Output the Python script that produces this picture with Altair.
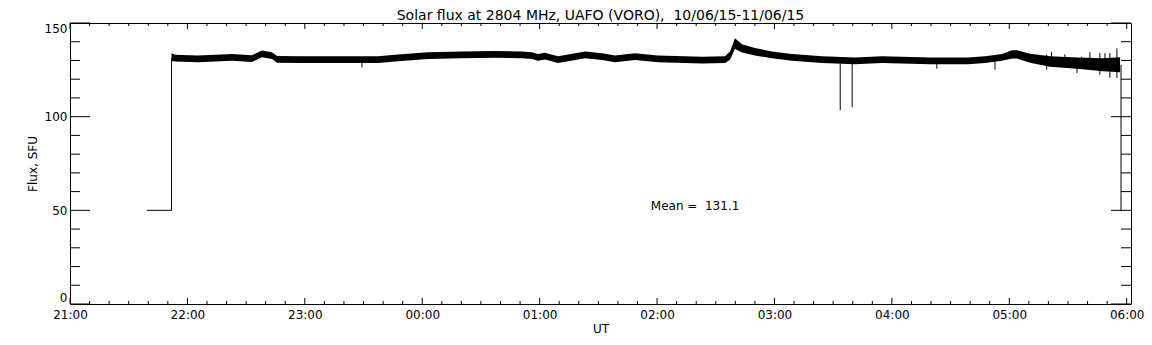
import altair as alt
import pandas as pd

# ---- data ----
# time in minutes after 21:00 UT
band_minutes = [51.9, 53.7, 65.4, 74.1, 82.8, 93.0, 98.1, 103.2, 105.8, 117.5,
                138.0, 157.4, 166.1, 182.9, 200.3, 217.2, 231.0, 236.1, 239.1, 242.7,
                249.4, 263.2, 271.9, 278.5, 288.7, 300.5, 323.0, 334.7, 337.3, 339.8,
                343.4, 350.0, 358.7, 369.0, 384.3, 401.1, 414.9, 439.5, 458.9, 467.6,
                476.3, 481.4, 483.9, 490.6, 500.8, 514.6, 527.9, 536.6]
flux_low = [129.7, 129.4, 129.1, 129.4, 129.8, 129.2, 131.7, 130.8, 128.8, 128.6,
            128.6, 128.7, 129.4, 130.8, 131.2, 131.5, 131.2, 130.8, 129.8, 130.5,
            128.6, 131.2, 130.2, 129.1, 130.2, 129.1, 128.4, 128.6, 130.4, 136.3,
            134.3, 132.7, 131.2, 129.8, 128.6, 128.0, 128.6, 128.0, 128.0, 128.6,
            129.8, 131.1, 131.1, 128.8, 126.7, 125.6, 124.2, 123.7]
flux_high = [133.8, 133.0, 132.7, 133.0, 133.4, 132.8, 135.3, 134.4, 132.4, 132.2,
             132.2, 132.3, 133.0, 134.4, 134.8, 135.1, 134.8, 134.4, 133.4, 134.1,
             132.2, 134.8, 133.8, 132.7, 133.8, 132.7, 132.0, 132.2, 134.8, 141.9,
             138.7, 136.7, 134.8, 133.4, 132.2, 131.6, 132.2, 131.6, 131.6, 132.2,
             133.4, 135.5, 135.5, 133.6, 132.3, 131.6, 131.2, 131.7]

# calibration steps at start and end (minutes, SFU)
step_minutes = [39.3, 51.9, 51.9, 537.1, 537.1]
step_flux = [50, 50, 131.5, 127.7, 50]
step_segment = ["start", "start", "start", "end", "end"]

# spikes (minutes, low, high)
spike_minutes = [149.2, 393.6, 399.7, 443.0, 472.7, 499.1, 501.6, 508.4, 514.6,
                 517.0, 521.2, 526.3, 528.9, 531.4, 535.0]
spike_low = [126.3, 103.5, 105.1, 125.6, 125.1, 125.1, 128.0, 128.0, 123.3,
             127.0, 127.0, 122.4, 126.0, 120.7, 120.7]
spike_high = [130.0, 129.5, 129.5, 129.5, 129.5, 133.0, 134.7, 133.3, 129.0,
              132.0, 134.4, 133.9, 133.9, 133.9, 136.5]

x_major = [0, 60, 120, 180, 240, 300, 360, 420, 480, 540]
x_tick_labels = ["21:00", "22:00", "23:00", "00:00", "01:00", "02:00",
                 "03:00", "04:00", "05:00", "06:00"]
x_minor = [m for m in range(10, 541, 10) if m % 60 != 0]
y_major = [0, 50, 100, 150]
y_minor = [v for v in range(10, 150, 10) if v % 50 != 0]

mean_text = ["Mean =\u00a0 131.1"]
mean_pos_min = [296.8]
mean_pos_val = [50]

title_text = ["Solar flux at 2804 MHz, UAFO (VORO),\u00a0 10/06/15-11/06/15"]

# ---- chart ----
W, H = 1061, 281
FONT = "DejaVu Sans"
xs = alt.Scale(domain=[0, 542.2], nice=False, zero=False)
ys = alt.Scale(domain=[0, 150], nice=False, zero=False)

label_expr = "[" + ",".join(f"'{s}'" for s in x_tick_labels) + "][round(datum.value / 60)]"
xaxis = alt.Axis(values=x_major, labelExpr=label_expr, ticks=False, domain=False,
                 grid=False, labelPadding=5, title="UT", titlePadding=3,
                 labelFlush=False)
yaxis = alt.Axis(values=y_major, ticks=False, domain=False, grid=False,
                 labelPadding=3, labelFlush=True, title="Flux, SFU", titlePadding=5)

band_df = pd.DataFrame({"m": band_minutes, "lo": flux_low, "hi": flux_high})
step_df = pd.DataFrame({"m": step_minutes, "v": step_flux, "seg": step_segment,
                        "i": list(range(len(step_minutes)))})
spike_df = pd.DataFrame({"m": spike_minutes, "lo": spike_low, "hi": spike_high})


def X(field="m"):
    return alt.X(f"{field}:Q", scale=xs, axis=xaxis)


def Y(field):
    return alt.Y(f"{field}:Q", scale=ys, axis=yaxis)


band = alt.Chart(band_df).mark_area(color="black", interpolate="linear").encode(
    x=X(), y=Y("lo"), y2="hi:Q")

steps = alt.Chart(step_df).mark_line(color="black", strokeWidth=1).encode(
    x=X(), y=Y("v"), detail="seg:N", order="i:Q")

spikes = alt.Chart(spike_df).mark_rule(color="black", strokeWidth=1).encode(
    x=X(), y=Y("lo"), y2="hi:Q")

xmaj_df = pd.DataFrame({"m": x_major})
xmin_df = pd.DataFrame({"m": x_minor})
ymaj_df = pd.DataFrame({"v": y_major})
ymin_df = pd.DataFrame({"v": y_minor})


def xticks(df, y0, y1):
    return alt.Chart(df).mark_rule(color="black", strokeWidth=1).encode(
        x=X(), y=alt.value(y0), y2=alt.value(y1))


def yticks(df, x0, x1):
    return alt.Chart(df).mark_rule(color="black", strokeWidth=1).encode(
        y=Y("v"), x=alt.value(x0), x2=alt.value(x1))


ticks = [
    xticks(xmaj_df, H, H - 6), xticks(xmin_df, H, H - 3),
    xticks(xmaj_df, 0, 6), xticks(xmin_df, 0, 3),
    yticks(ymaj_df, 0, 20), yticks(ymin_df, 0, 10),
    yticks(ymaj_df, W, W - 20), yticks(ymin_df, W, W - 10),
]

mean_df = pd.DataFrame({"m": mean_pos_min, "v": mean_pos_val, "t": mean_text})
mean = alt.Chart(mean_df).mark_text(
    align="left", baseline="alphabetic", font=FONT, fontSize=12, color="black"
).encode(x=X(), y=Y("v"), text="t:N")

title_df = pd.DataFrame({"t": title_text})
title = alt.Chart(title_df).mark_text(
    align="center", baseline="alphabetic", font=FONT, fontSize=14, color="black"
).encode(x=alt.value(W / 2), y=alt.value(-3.5), text="t:N")

chart = alt.layer(band, steps, spikes, *ticks, mean, title).properties(
    width=W, height=H,
    autosize=alt.AutoSizeParams(type="none"),
    padding={"left": 62, "top": 15, "right": 13, "bottom": 30},
    background="white",
).configure_view(stroke="black", strokeWidth=1).configure_axis(
    labelFont=FONT, labelFontSize=12, labelColor="black",
    titleFont=FONT, titleFontSize=12, titleFontWeight="normal", titleColor="black",
)

chart.save("out.html", embed_options={"renderer": "svg", "actions": False})
